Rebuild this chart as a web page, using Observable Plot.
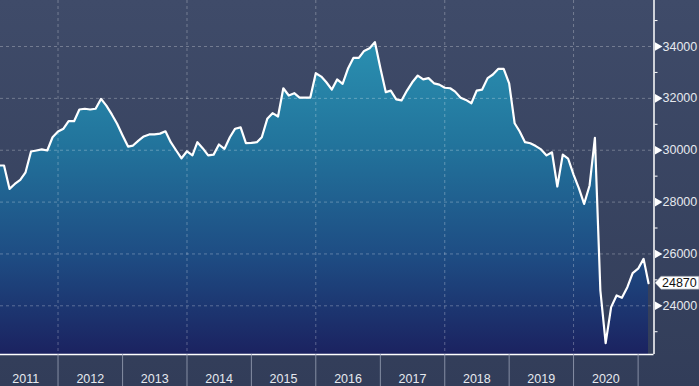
<!DOCTYPE html>
<html>
<head>
<meta charset="utf-8">
<script src="https://cdn.jsdelivr.net/npm/d3@7"></script>
<script src="https://cdn.jsdelivr.net/npm/@observablehq/plot@0.6"></script>
<style>
  html, body { margin: 0; padding: 0; background: #3a4663; }
  svg { display: block; }
</style>
</head>
<body>
<div id="chart"></div>
<script>
// Monthly index level, Feb 2011 – Mar 2021
const startYear = 2011;
const startMonth = 1; // February (0-based)
const values = [
  29410, 29410, 28510, 28700, 28860, 29150, 29950, 29990, 30030, 29990, 30500,
  30720, 30830, 31120, 31120, 31570, 31600, 31570, 31600, 31980, 31720, 31380, 31020,
  30570, 30140, 30180, 30370, 30530, 30610, 30610, 30640, 30730, 30310, 29990, 29690,
  29960, 29800, 30310, 30070, 29800, 29830, 30220, 30050, 30500, 30830, 30880, 30270,
  30280, 30310, 30500, 31210, 31430, 31300, 32390, 32110, 32200, 32030, 32030, 32030,
  32970, 32840, 32620, 32340, 32730, 32560, 33140, 33560, 33560, 33830, 33930, 34170,
  33170, 32240, 32300, 31960, 31920, 32300, 32620, 32880, 32730, 32780, 32580, 32530,
  32410, 32390, 32260, 32020, 31940, 31810, 32300, 32340, 32780, 32920, 33140, 33140,
  32580, 31040, 30730, 30310, 30270, 30160, 30030, 29800, 29920, 28600, 29830, 29680,
  29060, 28520, 27930, 28640, 30480, 24590, 22560, 23950, 24400, 24310, 24720, 25260,
  25430, 25810, 24870
];
const yearLabels = ["2011","2012","2013","2014","2015","2016","2017","2018","2019","2020"];
const majorTicks = [24000, 26000, 28000, 30000, 32000, 34000];
const minorTicks = [23000, 25000, 27000, 29000, 31000, 33000, 35000];
const xDomain = [new Date(2011, 1, 9), new Date(2021, 3, 1)];
const yDomain = [22122, 35774];

const data = values.map((v, i) => ({date: new Date(startYear, startMonth + i, 1), value: v}));
const last = data[data.length - 1];
const yearStarts = d3.range(2012, 2022).map(y => new Date(y, 0, 1));
const gridYears = [2012, 2014, 2016, 2018, 2020].map(y => new Date(y, 0, 1));
const yearMids = yearLabels.map(y => new Date(+y, 6, 2));
const FONT = '"Liberation Sans", Arial, sans-serif';
const FS = 12.5;

const W = 699, H = 386;
const plot = Plot.plot({
  width: W,
  height: H,
  marginLeft: 0,
  marginTop: 0,
  marginRight: 45.5,
  marginBottom: 32,
  style: {background: "transparent", fontFamily: FONT, fontSize: FS + "px", color: "#e6e9ef"},
  x: {type: "time", domain: xDomain},
  y: {domain: yDomain},
  marks: [
    (index, scales, values, dim) => {
      const g = d3.create("svg:g");
      const defs = g.append("defs");
      const bg = defs.append("linearGradient").attr("id", "bgGrad")
        .attr("gradientUnits", "userSpaceOnUse").attr("x1", 0).attr("x2", 0).attr("y1", 0).attr("y2", H);
      bg.append("stop").attr("offset", 0).attr("stop-color", "#3f4b69");
      bg.append("stop").attr("offset", 1).attr("stop-color", "#323d59");
      const ar = defs.append("linearGradient").attr("id", "areaGrad")
        .attr("gradientUnits", "userSpaceOnUse").attr("x1", 0).attr("x2", 0).attr("y1", 30).attr("y2", H - 32);
      ar.append("stop").attr("offset", 0).attr("stop-color", "#2b93b3");
      ar.append("stop").attr("offset", 0.35).attr("stop-color", "#22749c");
      ar.append("stop").attr("offset", 0.7).attr("stop-color", "#1e4c83");
      ar.append("stop").attr("offset", 1).attr("stop-color", "#1b2260");
      g.append("rect").attr("x", 0).attr("y", 0).attr("width", W).attr("height", H).attr("fill", "url(#bgGrad)");
      return g.node();
    },
    Plot.areaY(data, {x: "date", y1: yDomain[0], y2: "value", fill: "url(#areaGrad)", clip: true}),
    Plot.gridY({ticks: majorTicks, stroke: "#ffffff", strokeOpacity: 0.28, strokeDasharray: "3,3"}),
    Plot.gridX({ticks: gridYears, stroke: "#ffffff", strokeOpacity: 0.28, strokeDasharray: "3,3"}),
    Plot.lineY(data, {x: "date", y: "value", stroke: "white", strokeWidth: 2.2, clip: true}),
    Plot.ruleY([yDomain[0]], {stroke: "white", strokeWidth: 1.5}),
    Plot.ruleX([xDomain[1]], {stroke: "white", strokeWidth: 1.5}),
    Plot.axisX({ticks: yearStarts, tickSize: 32, tickFormat: () => "", stroke: "#9aa3b6", strokeOpacity: 0.8, label: null}),
    Plot.axisX({ticks: yearMids, tickSize: 0, tickPadding: 19.5, tickFormat: d => String(d.getFullYear()), fill: "#e6e9ef", fontSize: FS, label: null}),
    Plot.axisY({anchor: "right", ticks: minorTicks, tickSize: 3, tickFormat: () => "", stroke: "white", label: null}),
    Plot.axisY({anchor: "right", ticks: majorTicks, tickSize: 0, tickPadding: 8.5, tickFormat: d => String(d), fill: "#e6e9ef", fontSize: FS, label: null}),
    Plot.dot(majorTicks, {y: d => d, frameAnchor: "right", dx: 3.5, symbol: "triangle", r: 3.2, rotate: 90, fill: "white", stroke: null})
  ]
});

// Last-value tag, positioned by the plot's own scales
const ys = plot.scale("y");
const xs = plot.scale("x");
const yLast = ys.apply(last.value);
const xAxis = xs.apply(xDomain[1]);
const svg = d3.select(plot);
const tag = svg.append("g");
tag.append("polygon")
  .attr("points", [[xAxis + 1.5, yLast], [xAxis + 7.5, yLast - 6.5], [W, yLast - 6.5], [W, yLast + 6.5], [xAxis + 7.5, yLast + 6.5]].map(p => p.join(",")).join(" "))
  .attr("fill", "white").attr("stroke", "#8a8f99").attr("stroke-width", 0.6);
tag.append("text")
  .attr("x", xAxis + 8.5).attr("y", yLast).attr("dy", "0.35em")
  .attr("text-anchor", "start")
  .attr("font-family", FONT).attr("font-size", FS).attr("fill", "#111")
  .text(String(last.value));

document.getElementById("chart").appendChild(plot);
</script>
</body>
</html>
